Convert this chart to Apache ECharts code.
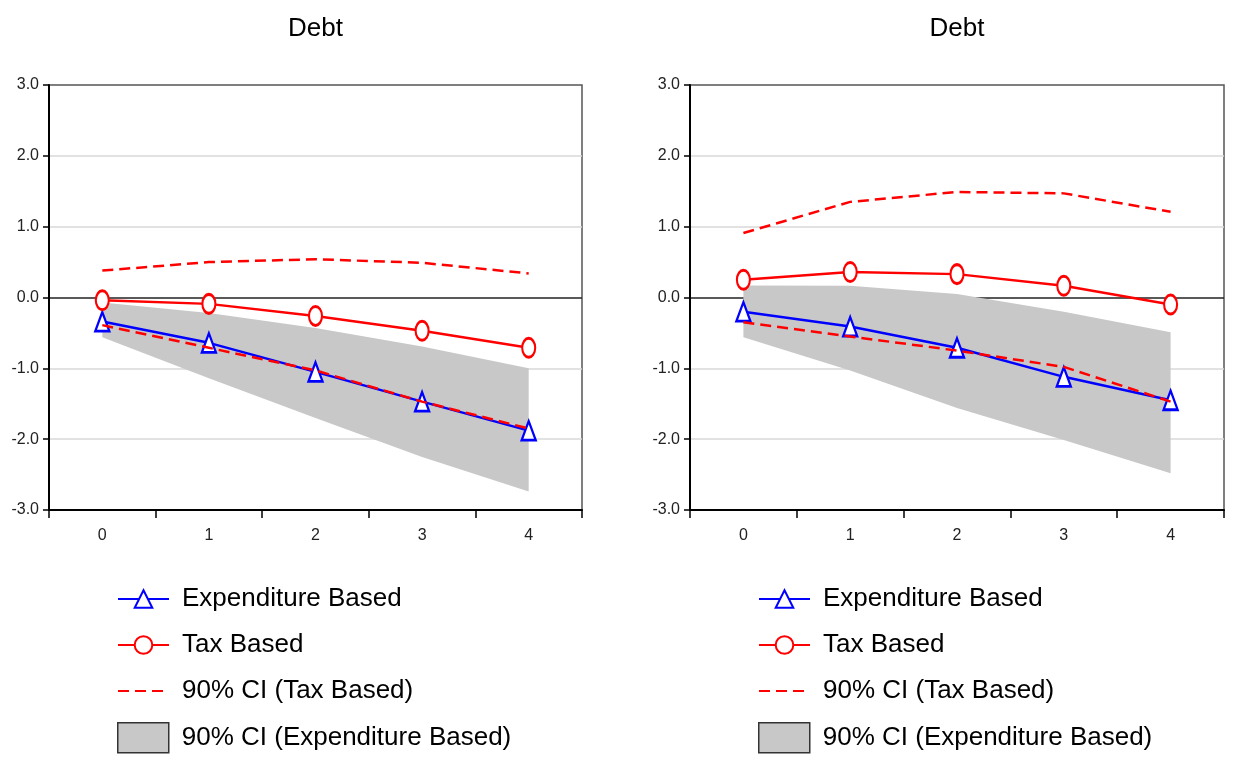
<!DOCTYPE html>
<html>
<head>
<meta charset="utf-8">
<title>Debt</title>
<script src="https://cdn.jsdelivr.net/npm/echarts@6/dist/echarts.min.js"></script>
<style>
  html, body { margin: 0; padding: 0; background: #fff; }
  #chart { width: 1235px; height: 760px; }
</style>
</head>
<body>
<div id="chart"></div>
<script>
// Horizon (years after the consolidation)
const horizons = ['0', '1', '2', '3', '4'];

// Left panel
const expBasedL   = [-0.34, -0.64, -1.05, -1.47, -1.88];
const taxBasedL   = [-0.04, -0.09, -0.26, -0.47, -0.71];
const taxCiUpL    = [0.38, 0.50, 0.54, 0.49, 0.34];
const taxCiLoL    = [-0.39, -0.71, -1.03, -1.47, -1.85];
const expCiUpL    = [-0.07, -0.22, -0.43, -0.69, -1.00];
const expCiLoL    = [-0.56, -1.14, -1.70, -2.25, -2.74];

// Right panel
const expBasedR   = [-0.20, -0.41, -0.71, -1.12, -1.45];
const taxBasedR   = [0.25, 0.36, 0.33, 0.165, -0.10];
const taxCiUpR    = [0.91, 1.35, 1.49, 1.47, 1.21];
const taxCiLoR    = [-0.35, -0.55, -0.75, -0.98, -1.47];
const expCiUpR    = [0.17, 0.165, 0.05, -0.20, -0.49];
const expCiLoR    = [-0.56, -1.03, -1.56, -2.01, -2.48];

const yTicks = [-3, -2, -1, 0, 1, 2, 3];
const panelTitle = 'Debt';
const NAME_EXP = 'Expenditure Based';
const NAME_TAX = 'Tax Based';
const NAME_TAX_CI = '90% CI (Tax Based)';
const NAME_EXP_CI = '90% CI (Expenditure Based)';

const FONT = "'Liberation Sans', Arial, sans-serif";
const BLUE = '#0000ff';
const RED = '#ff0000';
const BAND = '#c8c8c8';
const ELLIPSE = 'path://M0,10 A10,10 0 1,1 20,10 A10,10 0 1,1 0,10 Z';

const chart = echarts.init(document.getElementById('chart'), null, { renderer: 'canvas' });

const grids = [
  { left: 49, top: 85, width: 533, height: 425 },
  { left: 690, top: 85, width: 534, height: 425 }
];

function xAxisFor(i) {
  return {
    type: 'category', gridIndex: i, data: horizons,
    axisLine: { show: true, onZero: false, lineStyle: { color: '#000', width: 2 } },
    axisTick: { show: true, length: 8, lineStyle: { color: '#000', width: 1.5 } },
    axisLabel: { margin: 18, color: '#222', fontSize: 16, fontFamily: FONT },
    splitLine: { show: false }
  };
}

function yAxisFor(i) {
  return {
    type: 'value', gridIndex: i, min: yTicks[0], max: yTicks[yTicks.length - 1], interval: 1,
    axisLine: { show: true, lineStyle: { color: '#000', width: 2 } },
    axisTick: { show: true, length: 6, lineStyle: { color: '#000', width: 1.5 } },
    axisLabel: { margin: 10, color: '#222', fontSize: 16, fontFamily: FONT,
                 formatter: v => v.toFixed(1) },
    splitLine: {
      show: true,
      lineStyle: {
        width: 1.5,
        color: yTicks.map(t => (t === 0 ? '#222' : (Math.abs(t) === 3 ? 'rgba(0,0,0,0)' : '#d9d9d9')))
      }
    }
  };
}

// Shaded confidence band drawn as one polygon through the axis scales
function bandSeries(i, lo, hi) {
  return {
    name: NAME_EXP_CI, type: 'custom', xAxisIndex: i, yAxisIndex: i,
    data: horizons.map((h, k) => [k, lo[k], hi[k]]),
    itemStyle: { color: BAND },
    z: 1,
    renderItem: (params, api) => {
      if (params.dataIndex !== 0) return null;
      const pts = [];
      for (let k = 0; k < hi.length; k++) pts.push(api.coord([k, hi[k]]));
      for (let k = lo.length - 1; k >= 0; k--) pts.push(api.coord([k, lo[k]]));
      return { type: 'polygon', shape: { points: pts }, style: { fill: BAND } };
    }
  };
}

function panelSeries(i, d) {
  return [
    bandSeries(i, d.expLo, d.expUp),
    {
      name: NAME_EXP, type: 'line', xAxisIndex: i, yAxisIndex: i, data: d.exp, z: 3,
      symbol: 'triangle', symbolSize: [14, 19], showAllSymbol: true,
      lineStyle: { color: BLUE, width: 2.5 },
      itemStyle: { color: '#fff', borderColor: BLUE, borderWidth: 2.5 }
    },
    {
      name: NAME_TAX_CI, type: 'line', xAxisIndex: i, yAxisIndex: i, data: d.taxUp, z: 4,
      symbol: 'none', lineStyle: { color: RED, width: 2.5, type: [11, 6] }, itemStyle: { color: RED }
    },
    {
      name: NAME_TAX_CI, type: 'line', xAxisIndex: i, yAxisIndex: i, data: d.taxLo, z: 4,
      symbol: 'none', lineStyle: { color: RED, width: 2.5, type: [11, 6] }, itemStyle: { color: RED }
    },
    {
      name: NAME_TAX, type: 'line', xAxisIndex: i, yAxisIndex: i, data: d.tax, z: 5,
      symbol: ELLIPSE, symbolSize: [13, 19], symbolKeepAspect: false, showAllSymbol: true,
      lineStyle: { color: RED, width: 2.5 },
      itemStyle: { color: '#fff', borderColor: RED, borderWidth: 2.5 }
    }
  ];
}

// One legend component per row so every row can be placed on its own
function legendRows(x0) {
  const rowCentres = [601, 647, 693, 737];
  const items = [
    { name: NAME_EXP, h: 22 },
    { name: NAME_TAX, h: 22 },
    { name: NAME_TAX_CI, h: 22, itemStyle: { opacity: 0 } },
    { name: NAME_EXP_CI, h: 30, icon: 'rect',
      itemStyle: { color: BAND, borderColor: '#333', borderWidth: 1.5 } }
  ];
  return items.map((it, r) => {
    const entry = { name: it.name };
    if (it.icon) entry.icon = it.icon;
    if (it.itemStyle) entry.itemStyle = it.itemStyle;
    return {
      show: true, orient: 'horizontal', left: x0, top: rowCentres[r] - 15,
      padding: 0, itemWidth: 51, itemHeight: it.h, selectedMode: false,
      data: [entry],
      textStyle: { fontSize: 26, color: '#000', fontFamily: FONT, padding: [0, 0, 0, 8] }
    };
  });
}

const option = {
  backgroundColor: '#fff',
  animation: false,
  title: [
    { text: panelTitle, left: 310.5, textAlign: 'center', top: 11,
      textStyle: { fontSize: 26, fontWeight: 'normal', color: '#000', fontFamily: FONT } },
    { text: panelTitle, left: 952, textAlign: 'center', top: 11,
      textStyle: { fontSize: 26, fontWeight: 'normal', color: '#000', fontFamily: FONT } }
  ],
  grid: grids.map(g => Object.assign({ show: true, borderColor: '#555', borderWidth: 1.5,
                                        backgroundColor: 'rgba(0,0,0,0)' }, g)),
  xAxis: [xAxisFor(0), xAxisFor(1)],
  yAxis: [yAxisFor(0), yAxisFor(1)],
  legend: legendRows(117).concat(legendRows(758)),
  series: panelSeries(0, { exp: expBasedL, tax: taxBasedL, taxUp: taxCiUpL, taxLo: taxCiLoL,
                           expUp: expCiUpL, expLo: expCiLoL })
    .concat(panelSeries(1, { exp: expBasedR, tax: taxBasedR, taxUp: taxCiUpR, taxLo: taxCiLoR,
                             expUp: expCiUpR, expLo: expCiLoR }))
};

chart.setOption(option);
</script>
</body>
</html>
